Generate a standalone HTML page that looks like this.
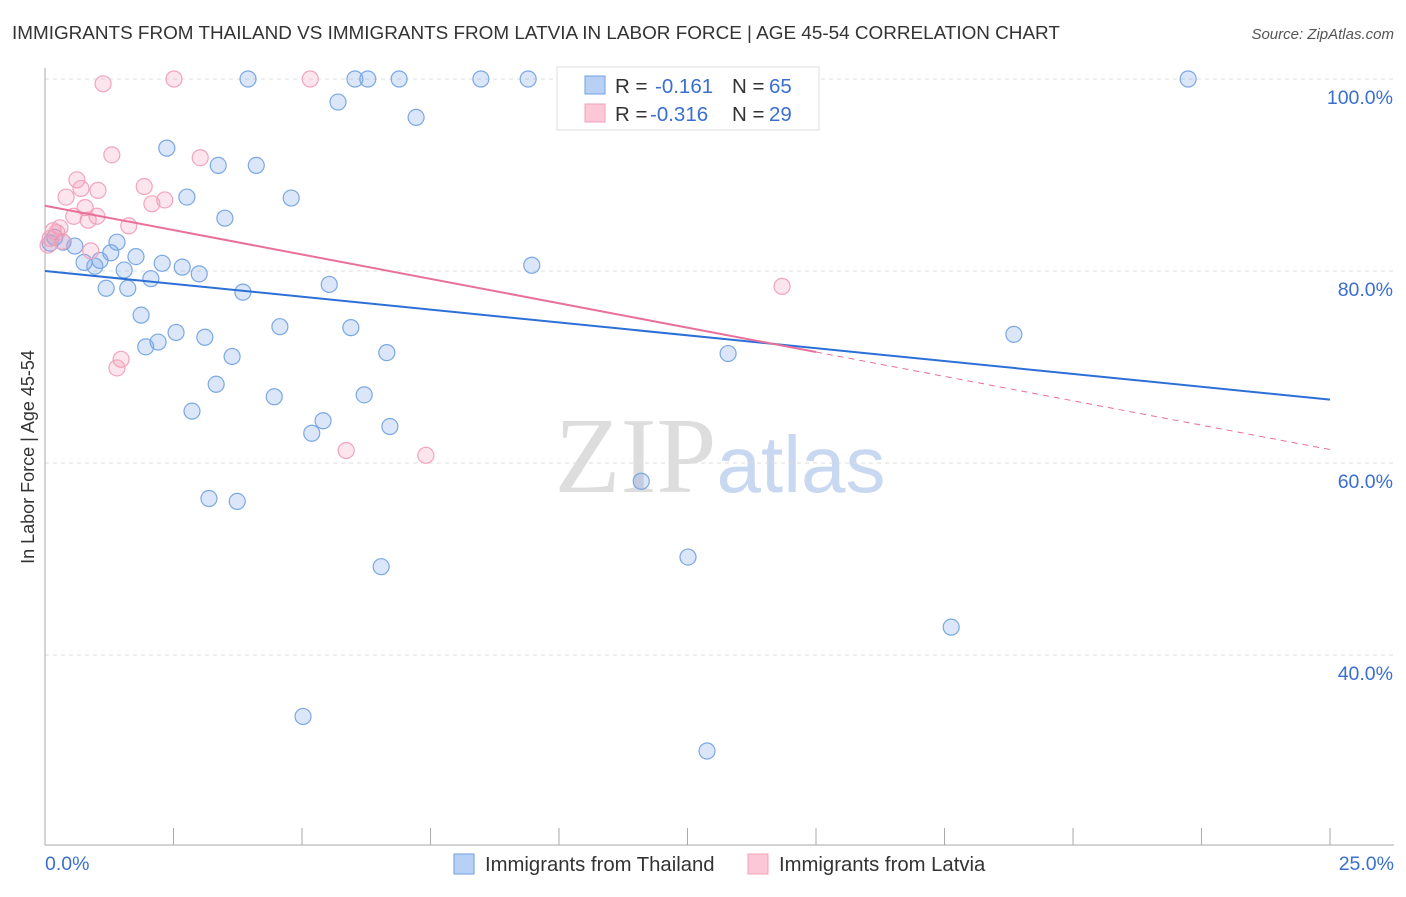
<!DOCTYPE html>
<html><head><meta charset="utf-8"><style>
body{margin:0;background:#fff;font-family:"Liberation Sans",sans-serif;}
</style></head><body>
<svg id="chart" width="1406" height="892" xmlns="http://www.w3.org/2000/svg" font-family="Liberation Sans, sans-serif">
<text x="12" y="39" font-size="18.9" fill="#333">IMMIGRANTS FROM THAILAND VS IMMIGRANTS FROM LATVIA IN LABOR FORCE | AGE 45-54 CORRELATION CHART</text>
<text x="1394" y="39" font-size="15" fill="#555" text-anchor="end" font-style="italic">Source: ZipAtlas.com</text>
<text x="720" y="492" font-size="108" text-anchor="middle" fill="#ddd" font-family="Liberation Serif, serif">ZIP<tspan fill="#c8d8f0" font-family="Liberation Sans, sans-serif" font-size="80">atlas</tspan></text>
<g id="grid"></g><g id="axes"></g><g id="marks"></g>
<text transform="translate(34,457) rotate(-90)" font-size="18" fill="#333" text-anchor="middle">In Labor Force | Age 45-54</text>
<g>
<rect x="557" y="67" width="262" height="63" fill="#fff" stroke="#ddd"/>
<rect x="585" y="76" width="20" height="18" fill="#b8d0f4" stroke="#6fa0e0"/>
<rect x="585" y="104" width="20" height="18" fill="#fcc8d8" stroke="#f0a0b8"/>
<text x="615" y="93" font-size="20.5" fill="#333">R = <tspan x="655" fill="#3a6fd0">-0.161</tspan><tspan x="732">N = </tspan><tspan x="769" fill="#3a6fd0">65</tspan></text>
<text x="615" y="121" font-size="20.5" fill="#333">R = <tspan x="650" fill="#3a6fd0">-0.316</tspan><tspan x="732">N = </tspan><tspan x="769" fill="#3a6fd0">29</tspan></text>
</g>
<g>
<rect x="454" y="854" width="20" height="20" fill="#b8d0f4" stroke="#6fa0e0"/>
<text x="485" y="871" font-size="20.3" fill="#333">Immigrants from Thailand</text>
<rect x="748" y="854" width="20" height="20" fill="#fcc8d8" stroke="#f0a0b8"/>
<text x="779" y="871" font-size="20.3" fill="#333">Immigrants from Latvia</text>
</g>
</svg>
<script>
const yTicks=[40,60,80,100];
const yTickLabels=["40.0%","60.0%","80.0%","100.0%"];
const xTickLabels=["0.0%","25.0%"];
const thaiX=[3.95,6.03,6.28,6.89,8.48,9.40,11.32,22.24,5.70,7.22,2.37,3.37,4.11,2.76,4.79,3.50,1.40,0.35,0.58,1.07,1.28,1.77,0.76,0.97,2.28,2.67,3.00,1.54,2.06,1.19,1.61,3.85,5.53,9.47,1.87,4.57,5.95,2.55,3.11,2.20,1.96,3.64,6.65,13.29,18.85,3.33,4.46,6.21,2.86,5.41,5.19,6.71,11.60,3.19,3.74,12.51,6.54,17.63,5.02,12.88,0.10,0.19];
const thaiY=[100,100,100,100,100,100,100,100,97.6,96.0,92.8,91.0,91.0,87.7,87.6,85.5,83.0,83.0,82.6,81.1,81.9,81.5,80.9,80.5,80.8,80.4,79.7,80.1,79.2,78.2,78.2,77.8,78.6,80.6,75.4,74.2,74.1,73.6,73.1,72.6,72.1,71.1,71.5,71.4,73.4,68.2,66.9,67.1,65.4,64.4,63.1,63.8,58.1,56.3,56.0,50.2,49.2,42.9,33.6,30.0,82.9,83.5];
const latX=[1.13,2.51,5.16,1.30,3.02,0.62,0.70,1.03,1.93,2.33,2.08,0.41,0.78,0.56,1.01,0.84,1.63,0.29,0.16,0.10,0.89,1.48,1.40,5.86,7.41,14.34,0.06,0.23,0.33];
const latY=[99.5,100,100,92.1,91.8,89.5,88.6,88.4,88.8,87.4,87.0,87.7,86.6,85.7,85.7,85.3,84.7,84.5,84.2,83.4,82.1,70.8,69.9,61.3,60.8,78.4,82.7,84.0,83.1];
const thaiTrend=[80.0,66.6];
const latTrend=[86.8,61.4];
const latSolidEnd=15;
const X=v=>45+v/25*1285, Y=v=>79+(100-v)/20*192;
const NS="http://www.w3.org/2000/svg";
function mk(t,a,p){const e=document.createElementNS(NS,t);for(const k in a)e.setAttribute(k,a[k]);p.appendChild(e);return e;}
const grid=document.getElementById('grid'),axes=document.getElementById('axes'),marks=document.getElementById('marks');
yTicks.forEach((t,i)=>{const l=mk('line',{x1:45,x2:1394,y1:Y(t),y2:Y(t),stroke:'#ddd','stroke-dasharray':'4,4'},grid);


const tx=mk('text',{x:1393,y:Y(t)+25,'font-size':19.5,fill:'#3a6fd0','text-anchor':'end'},axes);tx.textContent=yTickLabels[i];

});
let a=mk('line',{x1:45,x2:45,y1:68,y2:845,stroke:'#aaa'},axes);


a=mk('line',{x1:45,x2:1394,y1:845,y2:845,stroke:'#aaa'},axes);


for(let i=0;i<=10;i++){const t=mk('line',{x1:X(i*2.5),x2:X(i*2.5),y1:828,y2:845,stroke:'#aaa'},axes);

}
[[0,45,'start'],[25,1394,'end']].forEach((d,i)=>{const t=mk('text',{x:d[1],y:870,'font-size':19.5,fill:'#3a6fd0','text-anchor':d[2]},axes);t.textContent=xTickLabels[i];

});
thaiX.forEach((x,i)=>{const c=mk('circle',{cx:X(x),cy:Y(thaiY[i]),r:8,fill:'rgba(110,160,230,0.25)',stroke:'#7aa8e4','stroke-width':1.2},marks);

});
latX.forEach((x,i)=>{const c=mk('circle',{cx:X(x),cy:Y(latY[i]),r:8,fill:'rgba(245,150,180,0.25)',stroke:'#f2a4bc','stroke-width':1.2},marks);

});
let l=mk('line',{x1:X(0),y1:Y(thaiTrend[0]),x2:X(25),y2:Y(thaiTrend[1]),stroke:'#2c6fd6','stroke-width':2},marks);


const ly=v=>latTrend[0]+(latTrend[1]-latTrend[0])*v/25;
l=mk('line',{x1:X(0),y1:Y(latTrend[0]),x2:X(latSolidEnd),y2:Y(ly(latSolidEnd)),stroke:'#e8709a','stroke-width':2},marks);


l=mk('line',{x1:X(latSolidEnd),y1:Y(ly(latSolidEnd)),x2:X(25),y2:Y(latTrend[1]),stroke:'#e8709a','stroke-width':1,'stroke-dasharray':'6,5'},marks);


</script>
</body></html>
